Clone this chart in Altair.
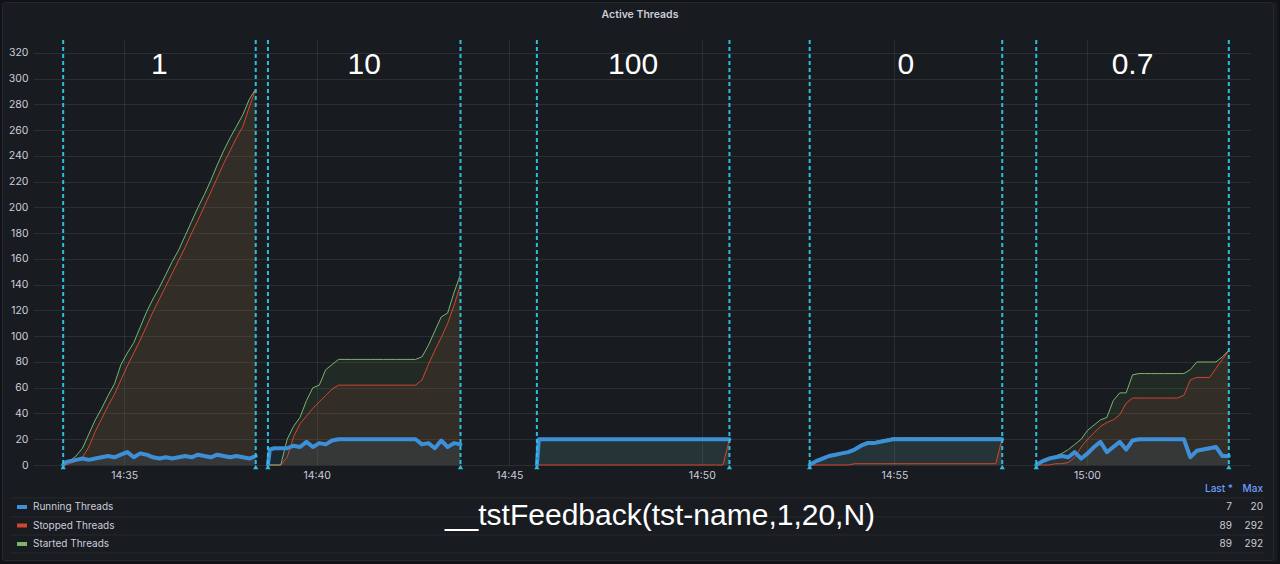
import altair as alt
import pandas as pd

DAY = "2024-01-01"

series_names = ["Running Threads", "Stopped Threads", "Started Threads"]
series_colors = ["#3d8fd8", "#d4442f", "#7eb26d"]
legend_last = [7, 89, 89]
legend_max = [20, 292, 292]

segment_start = ["14:33:25", "14:38:44", "14:45:43", "14:52:48", "14:58:41"]
segment_label = ["1", "10", "100", "0", "0.7"]
segment_length_s = 300

offsets_s = [0, 3, 10, 20, 30, 40, 50, 60, 70, 80, 90, 100, 110, 120, 130, 140,
             150, 160, 170, 180, 190, 200, 210, 220, 230, 240, 250, 260, 270, 280, 290, 300]

running = [
    [0, 2, 3, 4, 5, 4, 5, 6, 7, 6, 8, 10, 6, 9, 8, 6, 5, 6, 5, 6, 7, 6, 8, 7, 6, 8, 7, 6, 7, 6, 5, 7],
    [0, 12, 13, 13, 13, 15, 14, 18, 14, 17, 16, 19, 20, 20, 20, 20, 20, 20, 20, 20, 20, 20, 20, 20, 20, 16, 17, 13, 19, 14, 17, 16],
    [0, 20, 20, 20, 20, 20, 20, 20, 20, 20, 20, 20, 20, 20, 20, 20, 20, 20, 20, 20, 20, 20, 20, 20, 20, 20, 20, 20, 20, 20, 20, 20],
    [0, 1, 3, 5, 7, 8, 9, 10, 12, 15, 17, 17, 18, 19, 20, 20, 20, 20, 20, 20, 20, 20, 20, 20, 20, 20, 20, 20, 20, 20, 20, 20],
    [0, 1, 3, 5, 6, 7, 6, 10, 5, 9, 14, 18, 10, 14, 18, 12, 19, 20, 20, 20, 20, 20, 20, 20, 20, 6, 11, 12, 13, 14, 7, 7],
]
stopped = [
    [0, 0, 1, 3, 6, 14, 26, 36, 46, 55, 66, 77, 87, 97, 108, 119, 129, 139, 149, 159, 169, 180, 190, 201, 212, 223, 234, 244, 254, 263, 278, 292],
    [0, 0, 0, 0, 6, 22, 32, 38, 44, 49, 54, 59, 62, 62, 62, 62, 62, 62, 62, 62, 62, 62, 62, 62, 62, 66, 78, 89, 99, 110, 124, 140],
    [0, 0, 0, 0, 0, 0, 0, 0, 0, 0, 0, 0, 0, 0, 0, 0, 0, 0, 0, 0, 0, 0, 0, 0, 0, 0, 0, 0, 0, 0, 0, 20],
    [0, 0, 0, 0, 0, 0, 0, 0, 1, 1, 1, 1, 1, 1, 1, 1, 1, 1, 1, 1, 1, 1, 1, 1, 1, 1, 1, 1, 1, 1, 1, 21],
    [0, 0, 0, 0, 1, 1, 2, 6, 14, 20, 25, 30, 33, 35, 39, 48, 52, 52, 52, 52, 52, 52, 52, 52, 54, 66, 68, 68, 68, 75, 82, 89],
]
started = [
    [0, 1, 3, 7, 13, 24, 35, 44, 54, 63, 78, 87, 95, 107, 119, 129, 138, 148, 158, 167, 178, 189, 200, 210, 221, 233, 244, 254, 263, 272, 284, 292],
    [0, 0, 0, 0, 20, 30, 37, 50, 60, 62, 74, 78, 82, 82, 82, 82, 82, 82, 82, 82, 82, 82, 82, 82, 82, 84, 93, 104, 115, 118, 134, 148],
    [0, 20, 20, 20, 20, 20, 20, 20, 20, 20, 20, 20, 20, 20, 20, 20, 20, 20, 20, 20, 20, 20, 20, 20, 20, 20, 20, 20, 20, 20, 20, 20],
    [0, 1, 3, 5, 7, 8, 9, 10, 13, 16, 18, 18, 19, 20, 21, 21, 21, 21, 21, 21, 21, 21, 21, 21, 21, 21, 21, 21, 21, 21, 21, 21],
    [0, 1, 3, 5, 7, 9, 12, 16, 20, 27, 31, 35, 37, 50, 56, 56, 70, 71, 71, 71, 71, 71, 71, 71, 71, 74, 80, 80, 80, 80, 84, 89],
]

y_ticks = [0, 20, 40, 60, 80, 100, 120, 140, 160, 180, 200, 220, 240, 260, 280, 300, 320]
x_tick_hm = [(14, 35), (14, 40), (14, 45), (14, 50), (14, 55), (15, 0)]
x_domain_hms = [(14, 32, 38), (15, 4, 14)]

TITLE = "Active Threads"
BIG_TEXT = "__tstFeedback(tst-name,1,20,N)"


def iso(ts):
    return ts.strftime("%Y-%m-%dT%H:%M:%SZ")


def utc(h, m, s=0):
    return alt.DateTime(year=2024, month=1, date=1, hours=h, minutes=m, seconds=s, utc=True)


rows = []
for si, start in enumerate(segment_start):
    t0 = pd.Timestamp(f"{DAY} {start}")
    for name, vals in zip(series_names, [running[si], stopped[si], started[si]]):
        assert len(vals) == len(offsets_s)
        for off, v in zip(offsets_s, vals):
            rows.append({"t": iso(t0 + pd.Timedelta(seconds=off)), "value": v,
                         "series": name, "seg": si})
df = pd.DataFrame(rows)

ann_rows, lab_rows = [], []
for si, start in enumerate(segment_start):
    t0 = pd.Timestamp(f"{DAY} {start}")
    ann_rows.append({"t": iso(t0)})
    ann_rows.append({"t": iso(t0 + pd.Timedelta(seconds=segment_length_s))})
    lab_rows.append({"t": iso(t0 + pd.Timedelta(seconds=segment_length_s / 2)),
                     "label": segment_label[si]})
ann_df = pd.DataFrame(ann_rows)
lab_df = pd.DataFrame(lab_rows)
leg_df = pd.DataFrame({"series": series_names, "last": legend_last, "max": legend_max})
one = pd.DataFrame({"k": [0]})

W, H = 1217, 425
TXT = "#ccccdc"
GRID = "rgba(204,204,220,0.10)"
ANN = "#2bbfdd"
FONT = "Inter"

x_scale = alt.Scale(type="utc", domain=[utc(*x_domain_hms[0]), utc(*x_domain_hms[1])])
y_scale = alt.Scale(domain=[0, 330], nice=False, zero=True)
x_axis = alt.Axis(values=[utc(h, m) for h, m in x_tick_hm], format="%H:%M", title=None,
                  domain=False, ticks=False, labelPadding=5, grid=True, labelOverlap=False)
y_axis = alt.Axis(values=y_ticks, tickCount=len(y_ticks), title=None, domain=False, ticks=False,
                  labelPadding=5, grid=True, labelOverlap=False)
color = alt.Color("series:N", scale=alt.Scale(domain=series_names, range=series_colors), legend=None)


def X():
    return alt.X("t:T", scale=x_scale, axis=x_axis)


def Y():
    return alt.Y("value:Q", stack=None, scale=y_scale, axis=y_axis)


base = alt.Chart(df)
areas = base.mark_area(opacity=0.1, interpolate="linear").encode(
    x=X(), y=Y(), color=color, detail="seg:N")
thin = base.transform_filter(
    alt.FieldOneOfPredicate(field="series", oneOf=series_names[1:])
).mark_line(strokeWidth=1).encode(x=X(), y=Y(), color=color, detail="seg:N")
blue = base.transform_filter(alt.datum.series == series_names[0]).mark_line(
    strokeWidth=4, strokeJoin="round", strokeCap="round").encode(
    x=X(), y=Y(), color=color, detail="seg:N")

rules = alt.Chart(ann_df).mark_rule(strokeDash=[4, 3], strokeWidth=2, color=ANN).encode(
    x=X(), y=alt.value(0), y2=alt.value(H))
tris = alt.Chart(ann_df).mark_point(shape="triangle-up", filled=True, size=28, color=ANN, opacity=1).encode(
    x=X(), y=alt.value(H + 2))
labels = alt.Chart(lab_df).mark_text(fontSize=30, font="Liberation Sans", color="#ffffff",
                                     baseline="alphabetic", align="center").encode(
    x=X(), y=alt.value(34), text="label:N")

title = alt.Chart(one).mark_text(text=TITLE, fontSize=10.5, fontWeight=600, font=FONT, color=TXT,
                                 align="center", baseline="middle").encode(
    x=alt.value(607), y=alt.value(-25))
big = alt.Chart(one).mark_text(text=BIG_TEXT, fontSize=30, font="Liberation Sans", color="#ffffff",
                               align="center", baseline="alphabetic").encode(
    x=alt.value(627), y=alt.value(485))

outer = alt.Chart(one).mark_rect(fill="transparent", stroke="#111217", strokeWidth=5).encode(
    x=alt.value(-33), x2=alt.value(1247), y=alt.value(-40), y2=alt.value(524))
border = alt.Chart(one).mark_rect(fill="transparent", stroke="#262930", strokeWidth=1, cornerRadius=3).encode(
    x=alt.value(-30.5), x2=alt.value(1240.5), y=alt.value(-37.5), y2=alt.value(520.5))

layers = [areas, thin, blue, rules, tris, labels, title, big, outer, border]

for sy in [458, 477, 495, 513]:
    layers.append(alt.Chart(one).mark_rule(color="rgba(204,204,220,0.08)", strokeWidth=1).encode(
        x=alt.value(-23), x2=alt.value(1231), y=alt.value(sy)))

layers.append(alt.Chart(one).mark_text(text="Last *", fontSize=10, fontWeight=500, font=FONT,
                                       color="#6e9fff", align="right", baseline="middle").encode(
    x=alt.value(1200), y=alt.value(449)))
layers.append(alt.Chart(one).mark_text(text="Max", fontSize=10, fontWeight=500, font=FONT,
                                       color="#6e9fff", align="right", baseline="middle").encode(
    x=alt.value(1230), y=alt.value(449)))

row_y = [467, 485.5, 504]
for i, name in enumerate(series_names):
    d = alt.Chart(leg_df).transform_filter(alt.datum.series == name)
    layers.append(d.mark_rule(strokeWidth=4).encode(
        x=alt.value(-16), x2=alt.value(-6), y=alt.value(row_y[i]), color=color))
    layers.append(d.mark_text(fontSize=10, font=FONT, color=TXT, align="left", baseline="middle").encode(
        x=alt.value(0), y=alt.value(row_y[i]), text="series:N"))
    layers.append(d.mark_text(fontSize=10, font=FONT, color=TXT, align="right", baseline="middle").encode(
        x=alt.value(1199), y=alt.value(row_y[i]), text="last:Q"))
    layers.append(d.mark_text(fontSize=10, font=FONT, color=TXT, align="right", baseline="middle").encode(
        x=alt.value(1230), y=alt.value(row_y[i]), text="max:Q"))

chart = alt.layer(*layers).properties(
    width=W, height=H,
    autosize=alt.AutoSizeParams(type="none"),
    padding={"left": 33, "top": 40, "right": 30, "bottom": 99},
    background="#181b1f",
).configure_view(strokeWidth=0).configure_axis(
    labelColor=TXT, labelFont=FONT, labelFontSize=10.5, gridColor=GRID, gridWidth=1,
)

chart.save("out.html", embed_options={"renderer": "svg", "actions": False})
